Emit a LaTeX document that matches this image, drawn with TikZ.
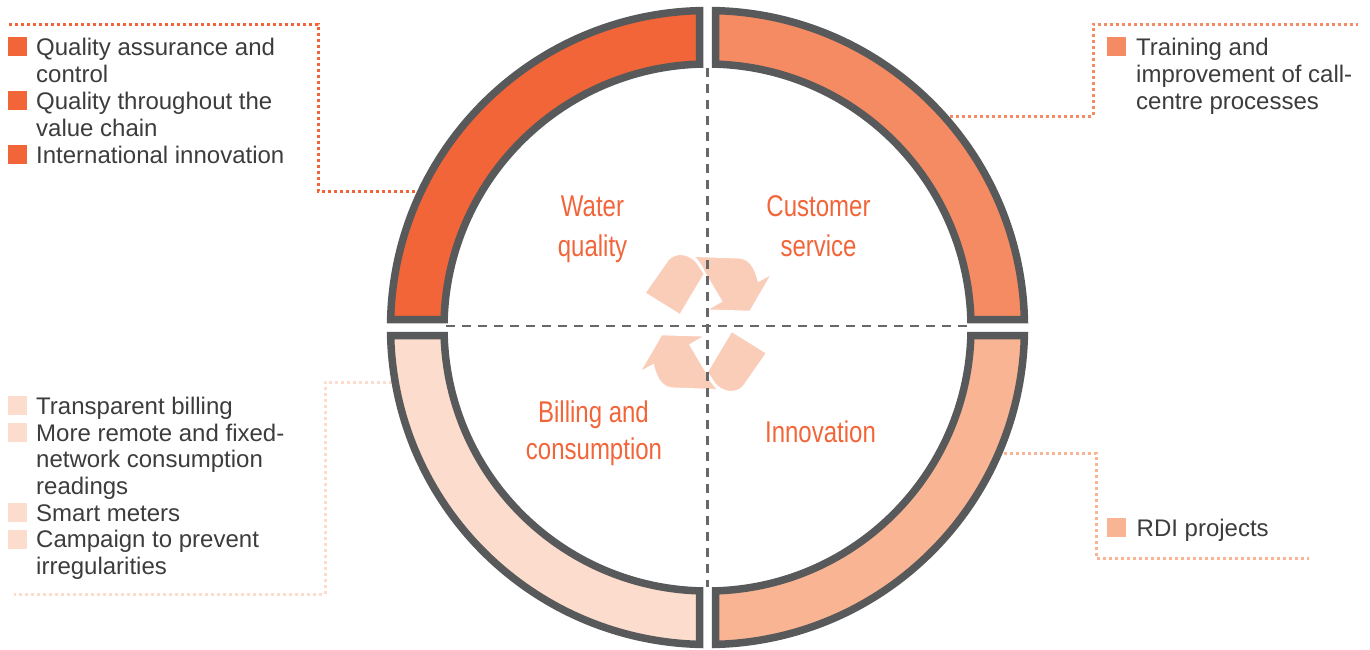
\documentclass[tikz,border=0pt]{standalone}
\usepackage{fontspec}
\setmainfont{Liberation Sans}
\newfontfamily\condfont[FakeStretch=0.8]{Liberation Sans}
\definecolor{cA}{HTML}{F26539}
\definecolor{cB}{HTML}{F58B62}
\definecolor{cC}{HTML}{F9B593}
\definecolor{cD}{HTML}{FCDCCC}
\definecolor{arr}{HTML}{FACDB8}
\definecolor{ringgray}{HTML}{58595B}
\definecolor{dgray}{HTML}{666769}
\definecolor{txt}{HTML}{3C3C3C}
\tikzset{
 segst/.style={draw=ringgray, line width=7.5pt, line join=miter},
 leader/.style={line width=3pt, dash pattern=on 3pt off 3pt},
 axisline/.style={draw=dgray, line width=2.8pt, dash pattern=on 9pt off 7pt},
 arrowpiece/.style={fill=arr, draw=white, line width=1.2pt},
 itemtxt/.style={anchor=base west, inner sep=0pt, text=txt, font=\fontsize{24}{27}\selectfont},
 bullet/.style={anchor=south west, inner sep=0pt, minimum size=19pt, draw=none},
 lab/.style={anchor=base, inner sep=0pt, text=cA, font=\condfont\fontsize{30}{36}\selectfont},
}
\newcommand\ringseg[2]{\draw[segst, fill=#2] ({#1+1.446}:317) arc[start angle={#1+1.446}, end angle={#1+88.554}, radius=317] -- ({#1+88.26}:263.5) arc[start angle={#1+88.26}, end angle={#1+1.74}, radius=263.5] -- cycle;}
\begin{document}
\begin{tikzpicture}[x=1pt,y=-1pt]
\useasboundingbox (0,0) rectangle (1370,649);
% leader lines
\coordinate (tl0) at (415,191); \coordinate (tl1) at (318,191); \coordinate (tl2) at (318,24); \coordinate (tl3) at (7,24);
\draw[leader, cA] (tl0) -- (tl1) -- (tl2) -- (tl3);
\coordinate (tr0) at (950,116); \coordinate (tr1) at (1093,116); \coordinate (tr2) at (1093,24); \coordinate (tr3) at (1358,24);
\draw[leader, cB] (tr0) -- (tr1) -- (tr2) -- (tr3);
\coordinate (bl0) at (392,382); \coordinate (bl1) at (325,382); \coordinate (bl2) at (325,594); \coordinate (bl3) at (14,594);
\draw[leader, cD] (bl0) -- (bl1) -- (bl2) -- (bl3);
\coordinate (br0) at (1004,453); \coordinate (br1) at (1096,453); \coordinate (br2) at (1096,558); \coordinate (br3) at (1309,558);
\draw[leader, cC] (br0) -- (br1) -- (br2) -- (br3);
% ring
\begin{scope}[shift={(707.5,327.5)}]
\ringseg{180}{cA}
\ringseg{270}{cB}
\ringseg{0}{cC}
\ringseg{90}{cD}
\end{scope}
% recycle arrows
\fill[arrowpiece] (645,293) -- (668.3,259.7) .. controls (675,252) and (690,252) .. (698.3,264.7) -- (704.3,274) -- (680,314.7) -- cycle;
\filldraw[arrowpiece] (693.3,256.3) -- (740,258) .. controls (750,259) and (755,268) .. (758.3,281.3) -- (771.7,274) -- (750,311.3) -- (706.7,310) -- (721.7,301.3) -- (705,273) .. controls (702,266) and (698,260) .. (693.3,256.3) -- cycle;
\begin{scope}[rotate around={180:(705.8,323)}]
\fill[arrowpiece] (645,293) -- (668.3,259.7) .. controls (675,252) and (690,252) .. (698.3,264.7) -- (704.3,274) -- (680,314.7) -- cycle;
\filldraw[arrowpiece] (693.3,256.3) -- (740,258) .. controls (750,259) and (755,268) .. (758.3,281.3) -- (771.7,274) -- (750,311.3) -- (706.7,310) -- (721.7,301.3) -- (705,273) .. controls (702,266) and (698,260) .. (693.3,256.3) -- cycle;
\end{scope}
% axes
\coordinate (vt) at (707.3,68); \coordinate (vb) at (707.3,587);
\coordinate (hl) at (446,326); \coordinate (hr) at (968,326);
\draw[axisline] (vt) -- (vb);
\draw[axisline] (hl) -- (hr);
% quadrant labels
\node[lab] (wq1) at (592.5,216.7) {Water};
\node[lab] (wq2) at (592.5,256) {quality};
\node[lab] (cs1) at (818.5,216.7) {Customer};
\node[lab] (cs2) at (818.5,256) {service};
\node[lab] (bc1) at (593.5,422.7) {Billing and};
\node[lab] (bc2) at (594,459.3) {consumption};
\node[lab] (in1) at (820.5,442.7) {Innovation};
% top-left list
\node[bullet, fill=cA] (sq1) at (8,56) {};
\node[bullet, fill=cA] (sq2) at (8,110) {};
\node[bullet, fill=cA] (sq3) at (8,164) {};
\node[itemtxt] (t1) at (36,55) {Quality assurance and};
\node[itemtxt] (t2) at (36,82) {control};
\node[itemtxt] (t3) at (36,109) {Quality throughout the};
\node[itemtxt] (t4) at (36,136) {value chain};
\node[itemtxt] (t5) at (36,163) {International innovation};
% top-right list
\node[bullet, fill=cB] (sq4) at (1107,56) {};
\node[itemtxt] (t6) at (1136,55) {Training and};
\node[itemtxt] (t7) at (1136,82) {improvement of call-};
\node[itemtxt] (t8) at (1136,109) {centre processes};
% bottom-left list
\node[bullet, fill=cD] (sq5) at (8,415) {};
\node[bullet, fill=cD] (sq6) at (8,442) {};
\node[bullet, fill=cD] (sq7) at (8,522) {};
\node[bullet, fill=cD] (sq8) at (8,549) {};
\node[itemtxt] (u1) at (36,414) {Transparent billing};
\node[itemtxt] (u2) at (36,441) {More remote and fixed-};
\node[itemtxt] (u3) at (36,467.5) {network consumption};
\node[itemtxt] (u4) at (36,494) {readings};
\node[itemtxt] (u5) at (36,521) {Smart meters};
\node[itemtxt] (u6) at (36,547.5) {Campaign to prevent};
\node[itemtxt] (u7) at (36,574) {irregularities};
% bottom-right list
\node[bullet, fill=cC] (sq9) at (1107,537) {};
\node[itemtxt] (v1) at (1136.5,536.5) {RDI projects};
\end{tikzpicture}
\end{document}
